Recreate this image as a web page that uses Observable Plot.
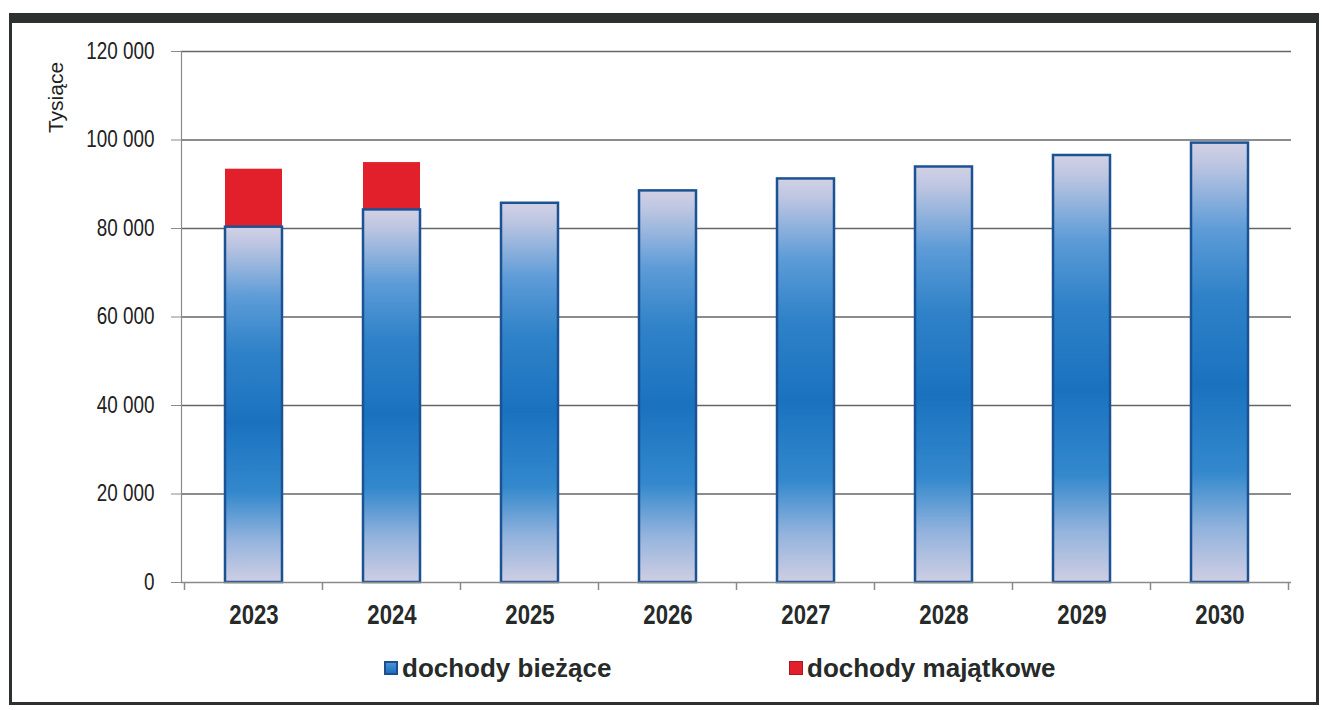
<!DOCTYPE html>
<html>
<head>
<meta charset="utf-8">
<script src="https://cdn.jsdelivr.net/npm/d3@7"></script>
<script src="https://cdn.jsdelivr.net/npm/@observablehq/plot@0.6"></script>
<style>
  body { margin: 0; background: #fff; }
  #frame {
    position: absolute; left: 9px; top: 13px;
    width: 1304px; height: 679px;
    border-top: 10px solid #2c302f; border-left: 3px solid #2c302f;
    border-right: 3px solid #2c302f; border-bottom: 3px solid #2c302f;
    background: #fff; overflow: hidden;
  }
  #legend { position: relative; height: 59px; font-family: "Liberation Sans", Arial, sans-serif; }
  .item { position: absolute; top: 10px; display: flex; align-items: center; font-size: 26px; line-height: 30px; font-weight: bold; color: #262a29; white-space: nowrap; }
  .sw { width: 14px; height: 14px; margin-right: 4px; box-sizing: border-box; }
</style>
</head>
<body>
<div id="frame">
  <div id="chart"></div>
  <div id="legend"></div>
</div>
<script>
const years = ["2023", "2024", "2025", "2026", "2027", "2028", "2029", "2030"];
const dochodyBiezace = [80300, 84200, 85700, 88500, 91200, 93900, 96500, 99300];
const dochodyMajatkowe = [13100, 10700, 0, 0, 0, 0, 0, 0];
const yTicks = [0, 20000, 40000, 60000, 80000, 100000, 120000];
const seriesNames = ["dochody bieżące", "dochody majątkowe"];
const axisTitle = "Tysiące";

const rows = years.map((year, i) => ({year, biezace: dochodyBiezace[i], majatkowe: dochodyMajatkowe[i]}));
const fmt = d => d3.format(",")(d).replace(/,/g, " ");

const gradientDefs = () => {
  const defs = d3.create("svg:defs");
  const g = defs.append("linearGradient").attr("id", "gradBlue").attr("x1", 0).attr("x2", 0).attr("y1", 0).attr("y2", 1);
  [[0, "#d2d1e5"], [0.05, "#bcc5e1"], [0.2, "#5c9bd7"], [0.35, "#2f82c8"], [0.55, "#1a72bf"], [0.75, "#3489cd"], [0.88, "#93b3dd"], [1, "#cfcee3"]]
    .forEach(([o, c]) => g.append("stop").attr("offset", o).attr("stop-color", c));
  return defs.node();
};

const boundaryTicks = (index, scales) => {
  const x = scales.x, y = scales.y;
  const step = x.step(), bw = x.bandwidth();
  const y0 = y(0);
  const gEl = d3.create("svg:g").attr("stroke", "#8a8a8a").attr("stroke-width", 1.5);
  const bounds = years.map(d => x(d) + bw / 2 - step / 2);
  bounds.push(x(years[years.length - 1]) + bw / 2 + step / 2);
  bounds.forEach(b => gEl.append("line").attr("x1", b).attr("x2", b).attr("y1", y0).attr("y2", y0 + 8));
  return gEl.node();
};

const chart = Plot.plot({
  width: 1304,
  height: 620,
  marginTop: 28,
  marginBottom: 61,
  marginLeft: 169,
  marginRight: 25,
  style: {fontFamily: "'Liberation Sans', Arial, sans-serif", color: "#222", background: "transparent"},
  x: {domain: years, paddingInner: 0.59, paddingOuter: 0.295},
  y: {domain: [0, 120000]},
  marks: [
    gradientDefs,
    Plot.ruleY(yTicks.filter(d => d > 0), {stroke: "#666", strokeWidth: 1.6}),
    Plot.barY(rows.filter(d => d.majatkowe > 0), {x: "year", y1: "biezace", y2: d => d.biezace + d.majatkowe, fill: "#e2202b"}),
    Plot.barY(rows, {x: "year", y: "biezace", fill: "url(#gradBlue)", stroke: "#1b5294", strokeWidth: 2.5}),
    Plot.ruleY([0], {stroke: "#8a8a8a", strokeWidth: 1.5}),
    boundaryTicks,
    Plot.frame({anchor: "left", stroke: "#8a8a8a", strokeWidth: 1.2}),
    Plot.axisY({ticks: yTicks, tickFormat: fmt, tickSize: 10, tickPadding: 17, fontSize: 23, stroke: "#8a8a8a", label: null}),
    Plot.axisX({tickSize: 0, tickPadding: 22, fontSize: 27, fontWeight: "bold", label: null, fill: "#262a29"}),
    Plot.text([axisTitle], {frameAnchor: "top-left", rotate: -90, textAnchor: "middle", lineAnchor: "middle", dx: -125, dy: 46, fontSize: 21, fill: "#1f1f1f"})
  ]
});
document.getElementById("chart").appendChild(chart);

// condensed look of the original tick labels
chart.querySelectorAll('g[aria-label="y-axis tick label"] text, g[aria-label="x-axis tick label"] text').forEach(el => {
  const L = el.getComputedTextLength();
  el.setAttribute("textLength", (L * 0.82).toFixed(1));
  el.setAttribute("lengthAdjust", "spacingAndGlyphs");
});

const legend = document.getElementById("legend");
const legendStyles = [
  {left: 372, bg: "linear-gradient(#4a94d6, #1d6fbd)", border: "2px solid #1d4f8f"},
  {left: 777, bg: "#e2202b", border: "1px solid #b0151e"}
];
seriesNames.forEach((name, i) => {
  const it = document.createElement("div");
  it.className = "item";
  it.style.left = legendStyles[i].left + "px";
  const sw = document.createElement("div");
  sw.className = "sw";
  sw.style.background = legendStyles[i].bg;
  sw.style.border = legendStyles[i].border;
  it.appendChild(sw);
  const t = document.createElement("span");
  t.textContent = name;
  it.appendChild(t);
  legend.appendChild(it);
});
</script>
</body>
</html>
